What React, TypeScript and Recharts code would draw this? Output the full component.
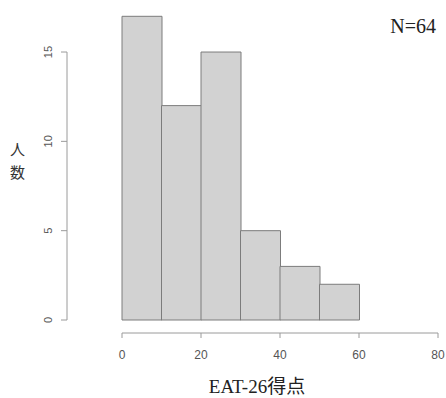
import React from 'react';
import { BarChart, Bar, XAxis, YAxis } from 'recharts';

// ---- data ----
const binStarts = [0, 10, 20, 30, 40, 50];
const binWidth = 10;
const counts = [17, 12, 15, 5, 3, 2];
const xTicks = [0, 20, 40, 60, 80];
const yTicks = [0, 5, 10, 15];
const xTitle = 'EAT-26得点';
const yTitle = ['人', '数'];
const nLabel = 'N=64';

const data = binStarts.map((s, i) => ({ mid: s + binWidth / 2, count: counts[i] }));

// ---- layout ----
const W = 446;
const H = 398;
const MARGIN = { top: 16.3, right: 8, bottom: 0, left: 0 };
const Y_MAX = 17;
const X_DOMAIN: [number, number] = [0, 80];
const VIS_Y_W = 67;
const GAP_Y_W = 55;
const GAP_X_H = 13;
const VIS_X_H = 65;
const PLOT_H = H - MARGIN.top - MARGIN.bottom - GAP_X_H - VIS_X_H;
const yLineGap = (PLOT_H * (Y_MAX - yTicks[yTicks.length - 1])) / Y_MAX;

const AXIS_COLOR = '#9a9a9a';
const TICK_COLOR = '#555';
const SANS = '"Liberation Sans", Arial, sans-serif';
const SERIF = '"Liberation Serif", "Times New Roman", "Noto Sans CJK JP", serif';

const YTick = (p: any) => (
  <g transform={`translate(${p.x - 7},${p.y})`}>
    <text transform="rotate(-90)" textAnchor="middle" fontSize={11} fill={TICK_COLOR} fontFamily={SANS}>
      {p.payload.value}
    </text>
  </g>
);

const XTitle = (p: any) => {
  const vb = p.viewBox;
  return (
    <text x={vb.x + 135} y={vb.y + 60} textAnchor="middle" fontSize={19} fill="#222" fontFamily={SERIF}>
      {xTitle}
    </text>
  );
};

const YTitle = (p: any) => {
  const vb = p.viewBox;
  return (
    <g>
      {yTitle.map((c, i) => (
        <text
          key={i}
          x={vb.x + 17.5}
          y={155 + i * 23}
          textAnchor="middle"
          fontSize={15}
          fill="#333"
          fontFamily='"Noto Sans CJK JP", sans-serif'
        >
          {c}
        </text>
      ))}
    </g>
  );
};

export default function App() {
  return (
    <div style={{ position: 'absolute', left: 0, top: 0, width: W, height: H, background: '#fff' }}>
      <BarChart width={W} height={H} data={data} margin={MARGIN} barCategoryGap={0} barGap={0}>
        {/* spacer axes (closest to the plot) */}
        <XAxis
          xAxisId="gap"
          type="number"
          domain={X_DOMAIN}
          height={GAP_X_H}
          tick={false}
          axisLine={false}
          tickLine={false}
        />
        <XAxis
          xAxisId="vis"
          dataKey="mid"
          type="number"
          domain={X_DOMAIN}
          ticks={xTicks}
          height={VIS_X_H}
          interval={0}
          tickSize={5}
          tickMargin={12}
          axisLine={{ stroke: AXIS_COLOR }}
          tickLine={{ stroke: AXIS_COLOR }}
          tick={{ fontSize: 12, fill: TICK_COLOR, fontFamily: SANS }}
          label={{ content: XTitle }}
        />
        <YAxis
          yAxisId="gap"
          type="number"
          domain={[0, Y_MAX]}
          width={GAP_Y_W}
          tick={false}
          axisLine={false}
          tickLine={false}
        />
        <YAxis
          yAxisId="vis"
          type="number"
          domain={[0, Y_MAX]}
          ticks={yTicks}
          width={VIS_Y_W}
          interval={0}
          tickSize={6}
          axisLine={{ stroke: AXIS_COLOR, strokeDasharray: `0 ${yLineGap} 2000` }}
          tickLine={{ stroke: AXIS_COLOR }}
          tick={<YTick />}
          label={{ content: YTitle }}
        />
        <Bar
          dataKey="count"
          xAxisId="vis"
          yAxisId="vis"
          fill="#d2d2d2"
          stroke="#7c7c7c"
          strokeWidth={1}
          isAnimationActive={false}
        />
      </BarChart>
      <svg width={W} height={H} style={{ position: 'absolute', left: 0, top: 0, pointerEvents: 'none' }}>
        <text x={436} y={33} textAnchor="end" fontSize={20} fill="#222" fontFamily={SERIF}>
          {nLabel}
        </text>
      </svg>
    </div>
  );
}
